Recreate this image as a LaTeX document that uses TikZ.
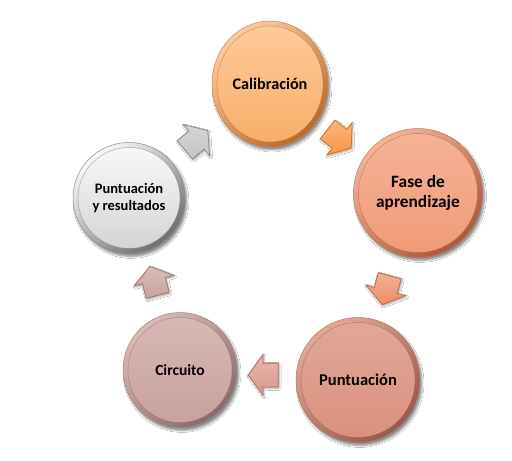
\documentclass[tikz,border=0pt]{standalone}
\usepackage{fontspec}
\setmainfont{Carlito}
\usetikzlibrary{shapes.geometric,shapes.arrows,shadows.blur}
\definecolor{calL}{HTML}{FDCB9C}\definecolor{calB}{HTML}{F9AD68}\definecolor{calD}{HTML}{B8692C}
\definecolor{fasL}{HTML}{F6B398}\definecolor{fasB}{HTML}{F09A76}\definecolor{fasD}{HTML}{A85A3A}
\definecolor{punL}{HTML}{E2A898}\definecolor{punB}{HTML}{D9907E}\definecolor{punD}{HTML}{98584A}
\definecolor{cirL}{HTML}{D8BAB6}\definecolor{cirB}{HTML}{C8A09C}\definecolor{cirD}{HTML}{8A6A66}
\definecolor{pyrL}{HTML}{FAFAFA}\definecolor{pyrB}{HTML}{D2D2D2}\definecolor{pyrD}{HTML}{6E6E6E}
\definecolor{aoneF}{HTML}{F79646}\definecolor{aoneD}{HTML}{D0722A}
\definecolor{atwoF}{HTML}{EC8F66}\definecolor{atwoD}{HTML}{C06A46}
\definecolor{athrF}{HTML}{DA988A}\definecolor{athrD}{HTML}{AE6E62}
\definecolor{afouF}{HTML}{C9A19D}\definecolor{afouD}{HTML}{98766F}
\definecolor{afivF}{HTML}{C4C4C4}\definecolor{afivD}{HTML}{8A8A8A}
\newcommand\bubblenode[9]{%
  \node[ellipse, minimum width=#3pt, minimum height=#4pt, inner sep=0pt, align=center,
    blur shadow={shadow xshift=2pt, shadow yshift=-3pt, shadow blur steps=6, shadow opacity=45},
    top color=#5, bottom color=#7, shading angle=40, draw=#7!80, line width=.5pt,
    path picture={
      \shade[top color=#5, bottom color=#6]
        (path picture bounding box.center) ellipse [x radius={(#3/2-5)*1pt}, y radius={(#4/2-5)*1pt}];
      \draw[#7, line width=.6pt, opacity=.45]
        (path picture bounding box.center) ellipse [x radius={(#3/2-5)*1pt}, y radius={(#4/2-5)*1pt}];
    },
    font=\bfseries#9] (#1) at (#2) {#8};}
\tikzset{
  blockarrow/.style n args={2}{single arrow, minimum height=30pt,
    single arrow head extend=8.5pt, single arrow tip angle=108, inner xsep=0pt, inner ysep=11.5pt,
    top color=#1!70!white, bottom color=#1, draw=#2, line width=.8pt,
    blur shadow={shadow xshift=1pt, shadow yshift=-1.5pt, shadow blur steps=4, shadow opacity=35}},
}
\begin{document}
\begin{tikzpicture}[x=1pt,y=-1pt]
\useasboundingbox[fill=white] (0,0) rectangle (512,461);
\bubblenode{cal}{270,84}{116}{126}{calL}{calB}{calD}{Calibración}{\fontsize{16.2}{19}\selectfont}
\bubblenode{fas}{418,193}{129}{129}{fasL}{fasB}{fasD}{Fase de\\aprendizaje}{\fontsize{17.3}{20}\selectfont}
\bubblenode{pun}{358,380}{124}{125}{punL}{punB}{punD}{Puntuación}{\fontsize{16.5}{20}\selectfont}
\bubblenode{cir}{180,370}{114}{115}{cirL}{cirB}{cirD}{Circuito}{\fontsize{15.5}{19}\selectfont}
\bubblenode{pyr}{129,198}{112}{111}{pyrL}{pyrB}{pyrD}{Puntuación\\y resultados}{\fontsize{14.5}{17}\selectfont}
\node[blockarrow={aoneF}{aoneD}, rotate=-38] (a1) at (336,136) {};
\node[blockarrow={atwoF}{atwoD}, rotate=-105] (a2) at (387,286) {};
\node[blockarrow={athrF}{athrD}, rotate=180] (a3) at (267.5,375) {};
\node[blockarrow={afouF}{afouD}, rotate=105] (a4) at (155,285) {};
\node[blockarrow={afivF}{afivD}, rotate=40] (a5) at (193,143) {};
\end{tikzpicture}
\end{document}
